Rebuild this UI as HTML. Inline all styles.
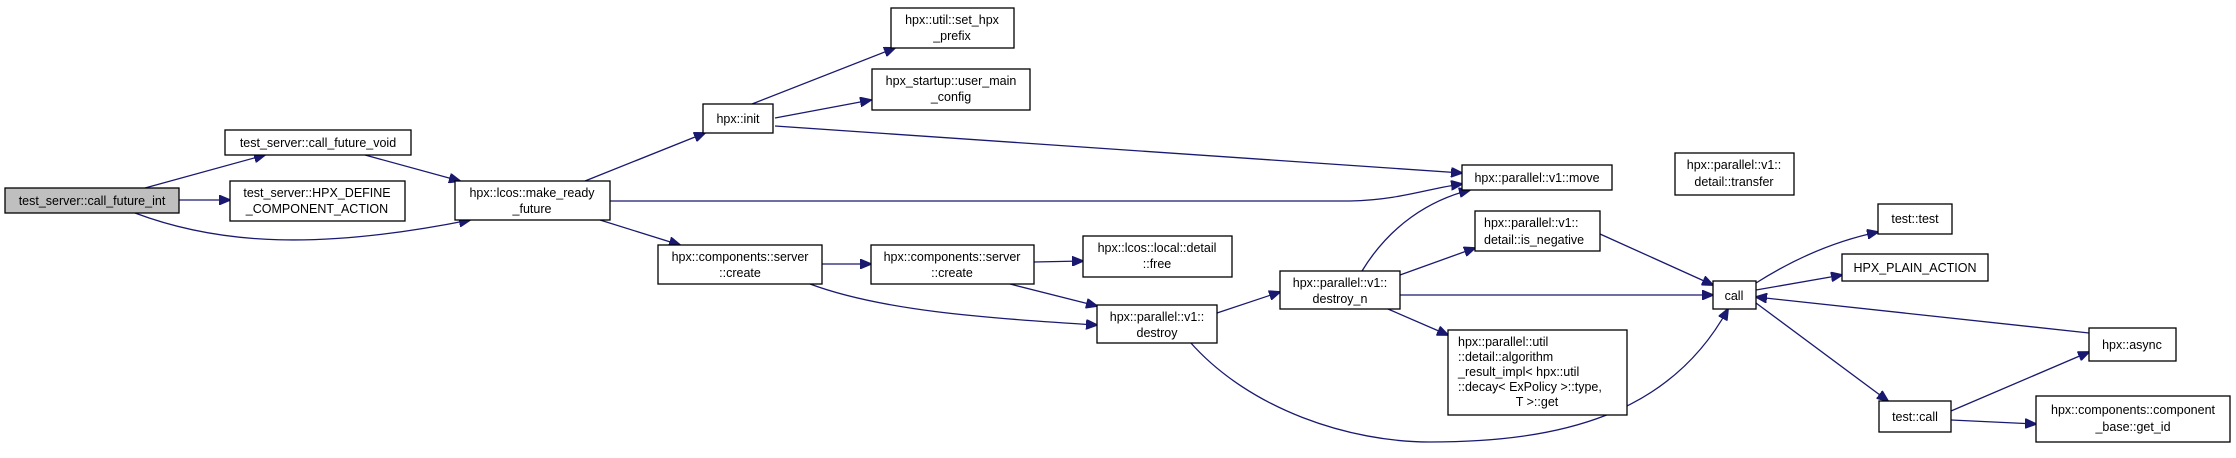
<!DOCTYPE html>
<html><head><meta charset="utf-8"><style>
html,body{margin:0;padding:0;background:#fff;}
svg{display:block;}
text{font-family:"Liberation Sans",Arial,sans-serif;font-size:12.5px;fill:#000;}
.b{fill:#fff;stroke:#000;stroke-width:1.3;}
.e{fill:none;stroke:#191970;stroke-width:1.3;}
</style></head><body>
<svg width="2236" height="458" viewBox="0 0 2236 458" xmlns="http://www.w3.org/2000/svg">
<defs><marker id="a" markerWidth="12" markerHeight="10" refX="11" refY="5" orient="auto" markerUnits="userSpaceOnUse"><path d="M0,0 L12,5 L0,10 z" fill="#191970" stroke="#191970"/></marker></defs>
<g class="e" marker-end="url(#a)">
<path d="M145,188 L265,155"/>
<path d="M179,200 L230,200"/>
<path d="M135,213 C220,245 320,250 470,220"/>
<path d="M365,155 L460,181"/>
<path d="M585,181 L705,133"/>
<path d="M610,201 L1350,201 C1400,200 1430,188 1462,184"/>
<path d="M600,220 L680,245"/>
<path d="M752,104 L895,48"/>
<path d="M775,118 L871,100"/>
<path d="M775,126 L1462,173"/>
<path d="M822,264 L871,264"/>
<path d="M810,284 C880,310 980,318 1097,325"/>
<path d="M1034,262 L1083,261"/>
<path d="M1010,284 L1097,306"/>
<path d="M1217,313 L1280,292"/>
<path d="M1190,342 C1250,410 1350,442 1430,442 C1560,442 1670,415 1728,309"/>
<path d="M1362,271 C1390,225 1430,200 1470,190"/>
<path d="M1400,275 L1475,248"/>
<path d="M1400,295 L1713,295"/>
<path d="M1388,309 L1448,335"/>
<path d="M1600,234 L1713,285"/>
<path d="M1756,283 C1800,255 1840,240 1878,232"/>
<path d="M1756,290 L1842,275"/>
<path d="M1756,303 L1888,401"/>
<path d="M2089,333 L1756,297"/>
<path d="M1951,411 L2089,352"/>
<path d="M1951,420 L2036,424"/>
</g>
<rect x="5" y="188" width="174" height="25" fill="#bfbfbf" stroke="#000" stroke-width="1.3"/>
<text x="92" y="205" text-anchor="middle">test_server::call_future_int</text>
<rect class="b" x="225" y="130" width="186" height="25"/><text x="318" y="147" text-anchor="middle">test_server::call_future_void</text>
<rect class="b" x="230" y="181" width="175" height="40"/><text x="317" y="197" text-anchor="middle">test_server::HPX_DEFINE</text><text x="317" y="213" text-anchor="middle">_COMPONENT_ACTION</text>
<rect class="b" x="455" y="181" width="155" height="39"/><text x="532" y="197" text-anchor="middle">hpx::lcos::make_ready</text><text x="532" y="213" text-anchor="middle">_future</text>
<rect class="b" x="703" y="104" width="70" height="29"/><text x="738" y="123" text-anchor="middle">hpx::init</text>
<rect class="b" x="891" y="8" width="123" height="40"/><text x="952" y="24" text-anchor="middle">hpx::util::set_hpx</text><text x="952" y="40" text-anchor="middle">_prefix</text>
<rect class="b" x="872" y="69" width="158" height="41"/><text x="951" y="85" text-anchor="middle">hpx_startup::user_main</text><text x="951" y="101" text-anchor="middle">_config</text>
<rect class="b" x="1462" y="165" width="150" height="25"/><text x="1537" y="182" text-anchor="middle">hpx::parallel::v1::move</text>
<rect class="b" x="1675" y="153" width="119" height="42"/><text x="1734" y="169" text-anchor="middle">hpx::parallel::v1::</text><text x="1734" y="186" text-anchor="middle">detail::transfer</text>
<rect class="b" x="658" y="245" width="164" height="39"/><text x="740" y="261" text-anchor="middle">hpx::components::server</text><text x="740" y="277" text-anchor="middle">::create</text>
<rect class="b" x="871" y="245" width="163" height="39"/><text x="952" y="261" text-anchor="middle">hpx::components::server</text><text x="952" y="277" text-anchor="middle">::create</text>
<rect class="b" x="1083" y="236" width="149" height="41"/><text x="1157" y="252" text-anchor="middle">hpx::lcos::local::detail</text><text x="1157" y="268" text-anchor="middle">::free</text>
<rect class="b" x="1097" y="305" width="120" height="38"/><text x="1157" y="321" text-anchor="middle">hpx::parallel::v1::</text><text x="1157" y="337" text-anchor="middle">destroy</text>
<rect class="b" x="1280" y="271" width="120" height="38"/><text x="1340" y="287" text-anchor="middle">hpx::parallel::v1::</text><text x="1340" y="303" text-anchor="middle">destroy_n</text>
<rect class="b" x="1475" y="211" width="125" height="40"/><text x="1484" y="227">hpx::parallel::v1::</text><text x="1484" y="244">detail::is_negative</text>
<rect class="b" x="1448" y="330" width="179" height="85"/>
<text x="1458" y="346">hpx::parallel::util</text><text x="1458" y="361">::detail::algorithm</text><text x="1458" y="376">_result_impl&lt; hpx::util</text><text x="1458" y="391">::decay&lt; ExPolicy &gt;::type,</text><text x="1537" y="406" text-anchor="middle">T &gt;::get</text>
<rect class="b" x="1713" y="281" width="43" height="28"/><text x="1734" y="300" text-anchor="middle">call</text>
<rect class="b" x="1878" y="204" width="74" height="30"/><text x="1915" y="223" text-anchor="middle">test::test</text>
<rect class="b" x="1842" y="254" width="146" height="27"/><text x="1915" y="272" text-anchor="middle">HPX_PLAIN_ACTION</text>
<rect class="b" x="2089" y="328" width="87" height="33"/><text x="2132" y="349" text-anchor="middle">hpx::async</text>
<rect class="b" x="1879" y="401" width="72" height="31"/><text x="1915" y="421" text-anchor="middle">test::call</text>
<rect class="b" x="2036" y="396" width="194" height="46"/><text x="2133" y="414" text-anchor="middle">hpx::components::component</text><text x="2133" y="431" text-anchor="middle">_base::get_id</text>
</svg>
</body></html>
